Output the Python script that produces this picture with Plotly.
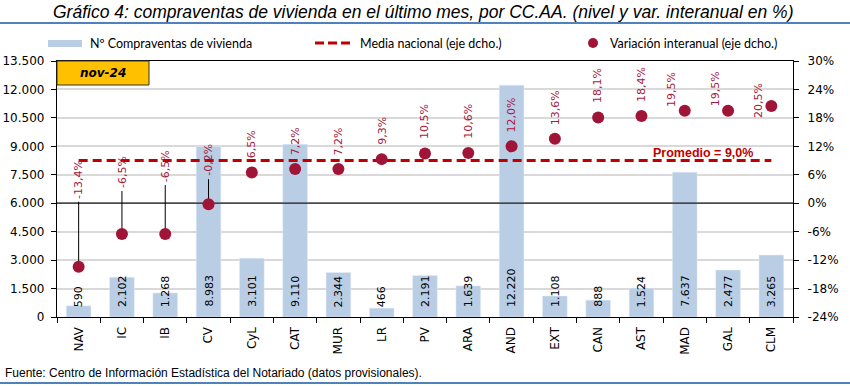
import plotly.graph_objects as go

# ---------------- data ----------------
categories = ["NAV", "IC", "IB", "CV", "CyL", "CAT", "MUR", "LR", "PV", "ARA",
              "AND", "EXT", "CAN", "AST", "MAD", "GAL", "CLM"]
compraventas = [590, 2102, 1268, 8983, 3101, 9110, 2344, 466, 2191, 1639,
                12220, 1108, 888, 1524, 7637, 2477, 3265]
var_interanual = [-13.4, -6.5, -6.5, -0.2, 6.5, 7.2, 7.2, 9.3, 10.5, 10.6,
                  12.0, 13.6, 18.1, 18.4, 19.5, 19.5, 20.5]
media_nacional = 9.0
left_ticks = list(range(0, 13501, 1500))
right_ticks = list(range(-24, 31, 6))
right_ticktext = [f"{v}%" for v in right_ticks]
period_label = "nov-24"
title_text = "Gráfico 4: compraventas de vivienda en el último mes, por CC.AA. (nivel y var. interanual en %)"
source_text = "Fuente: Centro de Información Estadística del Notariado (datos provisionales)."
legend_names = ["Nº Compraventas de vivienda", "Media nacional (eje dcho.)",
                "Variación interanual (eje dcho.)"]

# ---------------- style / geometry ----------------
W, H = 850, 386
ML, MR, MT, MB = 57, 57, 61, 69
PW, PH = W - ML - MR, H - MT - MB
Y2MIN, Y2MAX = -24, 30

BAR_C = "#B9CDE5"
DOT_C = "#A01437"
LBL_C = "#A6193C"
DASH_C = "#C00000"
BLUE_LINE = "#4F81BD"
TICKF = "DejaVu Sans"
LEGF = "Lato"
TITLEF = "Liberation Sans Narrow, Liberation Sans, sans-serif"

# label offsets (pixels) for percentage labels
label_dy = [68, 46, 52, 28] + [14] * 10 + [4, 4, -12]
label_dx = [0] * 14 + [-13, -13, -13]


def pxx(x):
    return (x - ML) / PW


def pxy(y):
    return (H - MB - y) / PH


n = len(categories)
xs = list(range(n))
y2_per_px = (Y2MAX - Y2MIN) / PH

fig = go.Figure()

fig.add_trace(go.Bar(x=xs, y=compraventas, marker_color=BAR_C, width=0.57,
                     name=legend_names[0], showlegend=False, hoverinfo="skip"))

# zero reference line on right axis (drawn above bars)
fig.add_trace(go.Scatter(x=[-0.5, n - 0.5], y=[0, 0], yaxis="y2", mode="lines",
                         line=dict(color="#1a1a1a", width=1.3), showlegend=False,
                         hoverinfo="skip"))

# national average dashed line
fig.add_trace(go.Scatter(x=xs, y=[media_nacional] * n, yaxis="y2", mode="lines",
                         line=dict(color=DASH_C, width=3, dash="9px,5px"),
                         name=legend_names[1], showlegend=False, hoverinfo="skip"))

# leader lines for negative labels
lx, ly = [], []
for i, v in enumerate(var_interanual):
    if v < 0:
        lx += [i, i, None]
        ly += [v, v + (label_dy[i] - 3) * y2_per_px, None]
fig.add_trace(go.Scatter(x=lx, y=ly, yaxis="y2", mode="lines",
                         line=dict(color="black", width=1), showlegend=False,
                         hoverinfo="skip"))

fig.add_trace(go.Scatter(x=xs, y=var_interanual, yaxis="y2", mode="markers",
                         marker=dict(color=DOT_C, size=12),
                         name=legend_names[2], showlegend=False, hoverinfo="skip"))

annotations = []
# percentage labels
for i, v in enumerate(var_interanual):
    annotations.append(dict(
        x=i, y=v, xref="x", yref="y2", text=f"{v:.1f}%".replace(".", ","),
        textangle=-90, showarrow=False, xanchor="center", yanchor="bottom",
        yshift=label_dy[i] - 2, xshift=label_dx[i],
        font=dict(family=TICKF, size=11, color=LBL_C)))
# bar value labels
for i, v in enumerate(compraventas):
    annotations.append(dict(
        x=i, y=0, xref="x", yref="y", text=f"{v:,}".replace(",", "."),
        textangle=-90, showarrow=False, xanchor="center", yanchor="bottom",
        yshift=8, font=dict(family=TICKF, size=11, color="black")))

# promedio label
annotations.append(dict(x=pxx(703), y=pxy(153), xref="paper", yref="paper",
                        text=f"Promedio = {media_nacional:.1f}%".replace(".", ","),
                        showarrow=False, xanchor="center", yanchor="middle",
                        font=dict(family="Liberation Sans", size=12.5, color=DASH_C,
                                  weight="bold")))
# period box text
annotations.append(dict(x=pxx(103), y=pxy(73), xref="paper", yref="paper",
                        text=f"<b><i>{period_label}</i></b>", showarrow=False,
                        xanchor="center", yanchor="middle",
                        font=dict(family=TICKF, size=12, color="black")))
# title
annotations.append(dict(x=pxx(423), y=pxy(12), xref="paper", yref="paper",
                        text=f"<i>{title_text}</i>", showarrow=False,
                        xanchor="center", yanchor="middle",
                        font=dict(family=TITLEF, size=17.5, color="black")))
# source
annotations.append(dict(x=pxx(3), y=pxy(373), xref="paper", yref="paper",
                        text=source_text, showarrow=False,
                        xanchor="left", yanchor="middle",
                        font=dict(family="Liberation Sans", size=12, color="black")))
# legend texts
for xt, name in zip([88, 358, 608], legend_names):
    annotations.append(dict(x=pxx(xt), y=pxy(43), xref="paper", yref="paper",
                            text=name, showarrow=False, xanchor="left",
                            yanchor="middle",
                            font=dict(family=LEGF, size=12.5, color="black")))

shapes = [
    # period box
    dict(type="rect", xref="paper", yref="paper", x0=pxx(57), x1=pxx(149),
         y0=pxy(85), y1=pxy(61), fillcolor="#FFC000",
         line=dict(color="#333333", width=1), layer="above"),
    # title underline
    dict(type="line", xref="paper", yref="paper", x0=pxx(0), x1=pxx(850),
         y0=pxy(23), y1=pxy(23), line=dict(color=BLUE_LINE, width=2)),
    # bottom line
    dict(type="line", xref="paper", yref="paper", x0=pxx(0), x1=pxx(850),
         y0=pxy(383), y1=pxy(383), line=dict(color=BLUE_LINE, width=2)),
    # legend swatches
    dict(type="rect", xref="paper", yref="paper", x0=pxx(48), x1=pxx(82),
         y0=pxy(47), y1=pxy(40), fillcolor=BAR_C, line=dict(width=0)),
    dict(type="line", xref="paper", yref="paper", x0=pxx(315), x1=pxx(350),
         y0=pxy(43), y1=pxy(43), line=dict(color=DASH_C, width=3, dash="9px,4px")),
    dict(type="circle", xref="paper", yref="paper", x0=pxx(588), x1=pxx(598),
         y0=pxy(48), y1=pxy(38), fillcolor=DOT_C, line=dict(width=0)),
]

fig.update_layout(
    width=W, height=H,
    margin=dict(l=ML, r=MR, t=MT, b=MB, autoexpand=False),
    paper_bgcolor="white", plot_bgcolor="white",
    separators=",.",
    showlegend=False,
    hovermode=False,
    annotations=annotations,
    shapes=shapes,
    xaxis=dict(
        range=[-0.5, n - 0.5], tickvals=xs, ticktext=categories, tickangle=-90,
        ticks="", showgrid=False, showline=True, linecolor="black", linewidth=1.3,
        mirror=True, zeroline=False, automargin=False,
        tickfont=dict(family=TICKF, size=12, color="black"),
        ticklabelstandoff=4,
        minor=dict(tickvals=[i - 0.5 for i in range(n + 1)], ticks="outside",
                   ticklen=5, tickcolor="black", tickwidth=1.3, showgrid=False),
    ),
    yaxis=dict(
        range=[0, 13500], tickvals=left_ticks, tickformat=",.0f",
        showgrid=True, gridcolor="#D9D9D9", gridwidth=1.5,
        showline=True, linecolor="black", linewidth=1.3,
        ticks="outside", ticklen=5, tickcolor="black",
        zeroline=False, ticklabelstandoff=4, automargin=False,
        tickfont=dict(family=TICKF, size=12, color="black"),
    ),
    yaxis2=dict(
        range=[Y2MIN, Y2MAX], tickvals=right_ticks, ticktext=right_ticktext,
        overlaying="y", side="right", showgrid=False,
        showline=True, linecolor="black", linewidth=1.3,
        ticks="outside", ticklen=5, tickcolor="black",
        zeroline=False, ticklabelstandoff=6, automargin=False,
        tickfont=dict(family=TICKF, size=12, color="black"),
    ),
)

fig.write_html("out.html",
               config={"displayModeBar": False},
               post_script="document.body.style.margin='0px';"
                           "document.body.style.padding='0px';")
